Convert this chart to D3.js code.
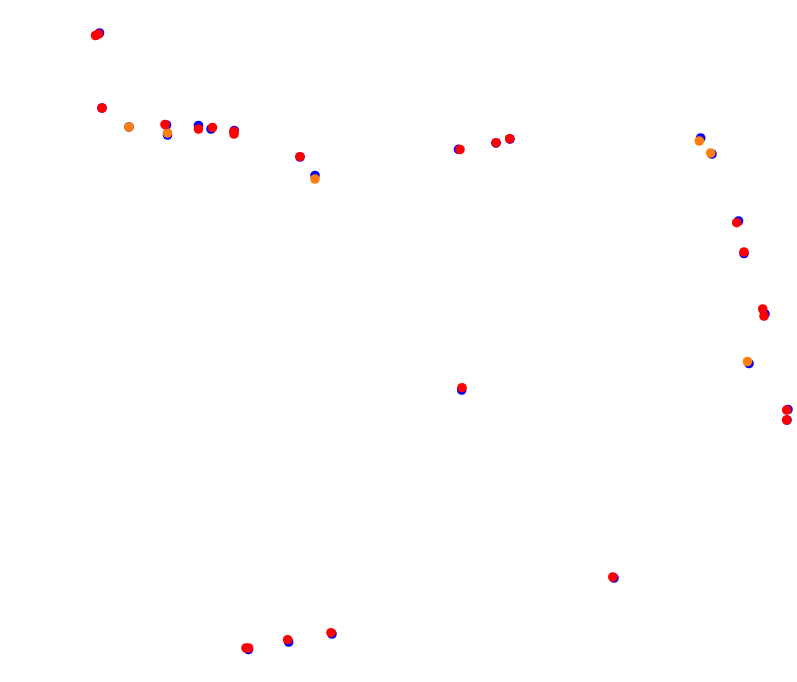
<!DOCTYPE html>
<html>
<head>
<meta charset="utf-8">
<script src="https://cdn.jsdelivr.net/npm/d3@7"></script>
<style>
html,body{margin:0;padding:0;background:#fff;}
svg{display:block;}
</style>
</head>
<body>
<svg id="chart" width="797" height="682"></svg>
<script>
// Series positions (track coordinates)
const blueX = [99.5, 102, 129, 166.5, 167.5, 198.5, 211, 234.3, 300, 315, 458.5, 496, 510, 700.7, 712, 738.5, 744, 765, 749, 461.7, 788, 787, 248.5, 288.7, 332, 614];
const blueY = [33, 108, 127, 125, 135, 125.5, 129, 130.5, 157, 175.5, 149.3, 143, 139, 138, 154, 221, 253.5, 314, 363.5, 390, 409.5, 420, 649.5, 642, 634, 578];

const orangeX = [129, 167.5, 315, 699.3, 710.7, 747.5];
const orangeY = [127, 133, 179, 141, 153, 361.5];

const redX = [95.5, 98.5, 102, 165, 198.5, 212.5, 234, 234, 300, 460, 496, 509.7, 736.7, 744, 762.7, 764, 462, 786.7, 786.7, 246, 248.5, 287.7, 331, 612.8];
const redY = [35.5, 34, 108, 124.5, 129, 127.5, 131.5, 134, 156.7, 149.5, 142.7, 138.7, 222.7, 252, 309, 316, 387.7, 410, 420, 648, 648, 639.7, 632.7, 577];

const series = [
  {name: "blue", xs: blueX, ys: blueY, color: "#0000ff"},
  {name: "orange", xs: orangeX, ys: orangeY, color: "#ff7f0e"},
  {name: "red", xs: redX, ys: redY, color: "#ff0000"}
];

const W = 797, H = 682;
const x = d3.scaleLinear().domain([0, 797]).range([0, W]);
const y = d3.scaleLinear().domain([0, 682]).range([0, H]);

const svg = d3.select("#chart");
series.forEach(s => {
  const pts = s.xs.map((v, i) => ({x: v, y: s.ys[i]}));
  svg.append("g").attr("class", s.name)
    .selectAll("circle").data(pts).join("circle")
    .attr("cx", d => x(d.x))
    .attr("cy", d => y(d.y))
    .attr("r", 4.8)
    .attr("fill", s.color);
});
</script>
</body>
</html>
